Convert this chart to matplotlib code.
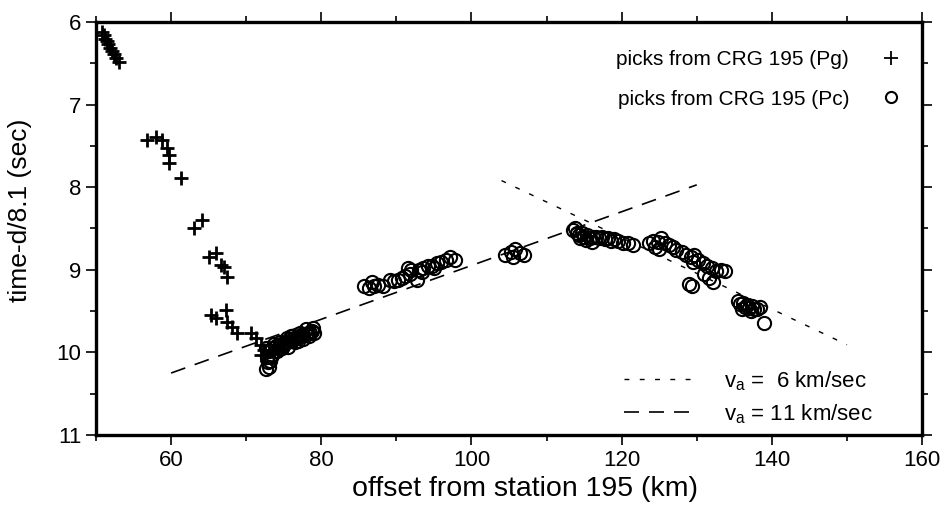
import numpy as np
import matplotlib
matplotlib.use("Agg")
import matplotlib.pyplot as plt
from matplotlib.lines import Line2D
from matplotlib.ticker import MultipleLocator

plt.rcParams['font.family'] = ['Liberation Sans', 'DejaVu Sans']
plt.rcParams['mathtext.fontset'] = 'custom'
plt.rcParams['mathtext.rm'] = 'Liberation Sans'

# Pg picks (crosses)
pg_x = [50.8, 51.0, 51.2, 51.4, 51.6, 51.9, 52.1, 52.4, 52.7, 53.0,
        56.8, 58.0, 58.8, 59.5, 59.7, 59.7, 61.3,
        63.1, 64.1, 65.1, 66.0, 66.7, 67.1, 67.5,
        65.3, 66.0, 67.3, 67.5, 68.1, 68.8, 70.7, 71.3, 72.0, 72.4, 72.0]
pg_y = [6.12, 6.16, 6.2, 6.23, 6.27, 6.31, 6.35, 6.39, 6.44, 6.48,
        7.43, 7.39, 7.43, 7.53, 7.61, 7.71, 7.89,
        8.49, 8.40, 8.85, 8.80, 8.94, 8.97, 9.09,
        9.55, 9.58, 9.49, 9.63, 9.69, 9.77, 9.77, 9.83, 9.91, 9.97, 10.03]

# Pc picks (circles)
pc_x = [72.6, 72.8, 72.9, 73.0, 73.2, 73.1, 73.5, 73.8, 74.0, 74.3, 74.6, 74.9,
        75.2, 75.5, 75.8, 76.1, 76.4, 76.7, 77.0, 77.3, 77.6, 77.9, 78.2, 78.5,
        78.8, 79.0, 73.4, 73.7, 74.1, 74.5, 74.8, 75.1, 75.6, 76.0, 76.5, 77.1,
        77.5, 78.0, 78.4, 78.9, 72.7, 73.3, 75.4, 76.9,
        85.7, 86.3, 87.0, 87.6, 88.2, 86.8,
        89.2, 89.7, 90.2, 90.7, 91.1, 91.5, 92.0, 91.8,
        93.0, 93.5, 94.2, 94.8, 95.4, 96.0, 96.6, 97.2, 97.8, 93.4, 95.0, 92.8,
        104.5, 105.2, 105.8, 106.4, 107.0, 105.5,
        113.5, 114.0, 114.3, 114.7, 115.0, 115.4, 115.8, 116.2, 116.6, 117.0,
        117.4, 117.8, 118.2, 118.6, 119.0, 119.5, 120.2, 114.5, 115.2, 116.0,
        113.8, 120.8, 121.5,
        123.6, 124.2, 124.8, 125.3, 125.8, 126.3, 126.8, 125.0, 124.5, 127.2,
        128.0, 128.6, 129.2, 129.6, 130.2, 130.8, 131.4, 132.0, 132.6, 133.2,
        131.0, 131.6, 132.2, 133.8, 129.5, 129.0, 129.3,
        135.5, 135.8, 136.1, 136.4, 136.7, 137.0, 137.3, 137.6, 138.0, 138.4,
        136.0, 137.2, 139.0]
pc_y = [9.95, 10.05, 10.12, 10.18, 10.1, 9.98, 9.95, 9.98, 9.92, 9.95, 9.9, 9.92,
        9.87, 9.88, 9.84, 9.86, 9.82, 9.83, 9.8, 9.8, 9.78, 9.78, 9.76, 9.77,
        9.74, 9.76, 10.03, 9.9, 9.98, 9.87, 9.95, 9.9, 9.93, 9.8, 9.88, 9.76,
        9.84, 9.72, 9.8, 9.71, 10.2, 10.05, 9.82, 9.86,
        9.2, 9.22, 9.2, 9.18, 9.2, 9.15,
        9.12, 9.13, 9.12, 9.1, 9.08, 8.98, 9.0, 9.05,
        9.0, 8.98, 8.96, 8.95, 8.92, 8.9, 8.88, 8.85, 8.88, 9.03, 8.98, 9.12,
        8.82, 8.78, 8.75, 8.8, 8.82, 8.84,
        8.52, 8.55, 8.58, 8.55, 8.6, 8.58, 8.62, 8.6, 8.6, 8.62,
        8.6, 8.63, 8.62, 8.65, 8.63, 8.65, 8.68, 8.62, 8.64, 8.66,
        8.5, 8.67, 8.7,
        8.68, 8.65, 8.66, 8.62, 8.68, 8.7, 8.72, 8.75, 8.72, 8.76,
        8.78, 8.82, 8.85, 8.82, 8.88, 8.92, 8.95, 8.98, 9.02, 9.0,
        9.05, 9.1, 9.15, 9.02, 8.9, 9.17, 9.2,
        9.38, 9.42, 9.4, 9.45, 9.43, 9.46, 9.44, 9.48, 9.47, 9.45,
        9.48, 9.5, 9.64]

# apparent velocity lines: (velocity, x start, x end, reduced time at x start)
va6 = (6.0, 104.0, 150.0, 7.92)
va11 = (11.0, 60.0, 130.0, 10.25)
red_v = 8.1

fig = plt.figure(figsize=(9.45, 5.2), dpi=100)
ax = fig.add_axes([0.1016, 0.1635, 0.8741, 0.7942])


def va_line(p):
    v, x0, x1, t0 = p
    xs = np.array([x0, x1])
    return xs, t0 + (xs - x0) * (1.0 / v - 1.0 / red_v)


dash6 = (0, (3.5, 7.5))
dash11 = (0, (9, 6))
x6, y6 = va_line(va6)
x11, y11 = va_line(va11)
ax.plot(x6, y6, color='k', lw=1.0, linestyle=dash6)
ax.plot(x11, y11, color='k', lw=1.2, linestyle=dash11)

ax.plot(pc_x, pc_y, 'o', mfc='none', mec='k', ms=9.5, mew=1.5, linestyle='none')
ax.plot(pg_x, pg_y, '+', color='k', ms=10, mew=2.0, linestyle='none')

ax.set_xlim(50, 160)
ax.set_ylim(11, 6)
ax.xaxis.set_major_locator(MultipleLocator(20))
ax.xaxis.set_minor_locator(MultipleLocator(10))
ax.yaxis.set_major_locator(MultipleLocator(1))
ax.yaxis.set_minor_locator(MultipleLocator(0.5))
ax.tick_params(which='both', direction='out', top=True, right=True,
               labeltop=False, labelright=False, width=1.2, labelsize=16)
ax.tick_params(which='major', length=7)
ax.tick_params(which='minor', length=4)
for s in ax.spines.values():
    s.set_linewidth(2.4)

ax.set_xlabel('offset from station 195 (km)', fontsize=20.5)
ax.set_ylabel('time-d/8.1 (sec)', fontsize=19)
ax.xaxis.set_label_coords(0.519, -0.1)
ax.yaxis.set_label_coords(-0.078, 0.545)

h1 = [Line2D([], [], marker='+', color='k', ms=10, mew=1.3, linestyle='none'),
      Line2D([], [], marker='o', mfc='none', mec='k', ms=8, mew=1.5, linestyle='none')]
leg1 = ax.legend(h1, ['picks from CRG 195 (Pg)', 'picks from CRG 195 (Pc)'],
                 loc='upper right', frameon=False, markerfirst=False,
                 fontsize=15, handlelength=1.2, handletextpad=1.4,
                 labelspacing=1.0, bbox_to_anchor=(1.0, 0.978))
ax.add_artist(leg1)

h2 = [Line2D([], [], color='k', lw=1.0, linestyle=dash6),
      Line2D([], [], color='k', lw=1.2, linestyle=dash11)]
ax.legend(h2, [r'v$_\mathregular{a}$ =  6 km/sec', r'v$_\mathregular{a}$ = 11 km/sec'],
          loc='lower right', frameon=False, fontsize=16, handlelength=3.2,
          handletextpad=1.3, labelspacing=0.43, bbox_to_anchor=(0.965, -0.026))

fig.savefig('out.png', dpi=100)
